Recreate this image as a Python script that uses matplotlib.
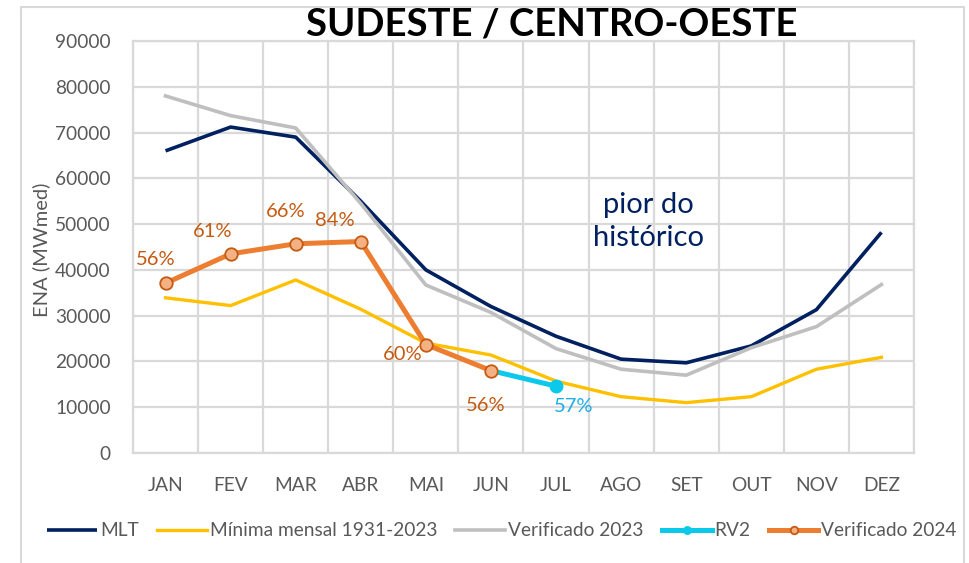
import matplotlib
matplotlib.use("Agg")
import matplotlib.pyplot as plt
import numpy as np
from matplotlib.patches import Rectangle

plt.rcParams['font.family'] = ['Lato', 'DejaVu Sans']

months = ["JAN", "FEV", "MAR", "ABR", "MAI", "JUN", "JUL", "AGO", "SET", "OUT", "NOV", "DEZ"]
mlt = [66000, 71200, 69000, 55000, 40000, 32000, 25500, 20500, 19700, 23400, 31300, 48200]
minima = [33900, 32200, 37800, 31400, 24000, 21400, 15700, 12300, 11000, 12300, 18300, 20900]
verif2023 = [78000, 73700, 71000, 54500, 36700, 30700, 22800, 18300, 17000, 23000, 27600, 36800]
verif2024 = [37100, 43500, 45700, 46200, 23700, 18000]
rv2_months = ["JUN", "JUL"]
rv2 = [18000, 14600]
pct2024 = ["56%", "61%", "66%", "84%", "60%", "56%"]
pct_rv2 = "57%"

W, H = 969, 563
fig = plt.figure(figsize=(W / 100, H / 100), dpi=100)

def fx(px):
    return px / W

def fy(py):
    return 1 - py / H

ax = fig.add_axes([fx(133), fy(453), fx(914) - fx(133), fy(41) - fy(453)])

x = np.arange(len(months))
x24 = np.arange(len(verif2024))
xrv = np.array([months.index(m) for m in rv2_months])

l1, = ax.plot(x, mlt, color="#002060", lw=2.6, zorder=3, solid_capstyle="butt", label="MLT")
l2, = ax.plot(x, minima, color="#FFC000", lw=2.4, zorder=3, label="Mínima mensal 1931-2023")
l3, = ax.plot(x, verif2023, color="#BFBFBF", lw=2.6, zorder=3, label="Verificado 2023")
l4, = ax.plot(xrv, rv2, color="#0BC9EA", lw=3.6, zorder=4, marker="o", markersize=9,
              markevery=[1], markerfacecolor="#0BC9EA", markeredgecolor="#0BC9EA", label="RV2")
l5, = ax.plot(x24, verif2024, color="#ED7D31", lw=3.6, zorder=5, marker="o", markersize=9,
              markerfacecolor="#F4B183", markeredgecolor="#C55A11", markeredgewidth=1.3,
              label="Verificado 2024")

# percentage labels (offsets in points)
offsets = [(-7, 17), (-13, 16), (-7, 23), (-19, 15), (-17, -7), (-4, -25)]
for i, (lab, off) in enumerate(zip(pct2024, offsets)):
    ax.annotate(lab, (x24[i], verif2024[i]), xytext=off, textcoords="offset points",
                ha="center", va="center", fontsize=14.5, color="#C55A11", zorder=6)
ax.annotate(pct_rv2, (xrv[-1], rv2[-1]), xytext=(13, -15), textcoords="offset points",
            ha="center", va="center", fontsize=14.5, color="#1CAEE6", zorder=6)

ax.text(7.42, 50600, "pior do\nhistórico", ha="center", va="center", fontsize=21,
        color="#002060", linespacing=1.3)

ax.set_xlim(-0.5, len(months) - 0.5)
ax.set_ylim(0, 90000)
ax.set_yticks(np.arange(0, 90001, 10000))
ax.set_xticks(x)
ax.set_xticklabels(months)
ax.set_xticks(np.arange(-0.5, len(months), 1), minor=True)
ax.grid(axis="y", which="major", color="#D9D9D9", lw=1.6, zorder=0)
ax.grid(axis="x", which="minor", color="#D9D9D9", lw=1.6, zorder=0)
ax.tick_params(which="both", length=0)
ax.tick_params(axis="y", pad=16, labelsize=13.8, labelcolor="#595959")
ax.tick_params(axis="x", pad=17, labelsize=13.8, labelcolor="#595959")
for s in ax.spines.values():
    s.set_color("#D9D9D9")
    s.set_linewidth(1.6)
ax.set_axisbelow(True)

fig.text(fx(41), fy(250), "ENA (MWmed)", rotation=90, ha="center", va="center",
         fontsize=14.5, color="#595959")

fig.text(fx(552), fy(24), "SUDESTE / CENTRO-OESTE", ha="center", va="center",
         fontsize=27.5, fontweight="bold", color="black")

fig.legend(handles=[l1, l2, l3, l4, l5], loc="center", bbox_to_anchor=(fx(502), fy(531)),
           ncol=5, frameon=False, fontsize=13.8, handlelength=2.6, handletextpad=0.15,
           columnspacing=0.95, labelcolor="#595959", markerscale=0.6)

fig.patches.append(Rectangle((fx(21), -0.05), fx(964) - fx(21), fy(7) + 0.05,
                             transform=fig.transFigure, fill=False,
                             edgecolor="#D9D9D9", lw=1.5))

fig.savefig("out.png", dpi=100)
